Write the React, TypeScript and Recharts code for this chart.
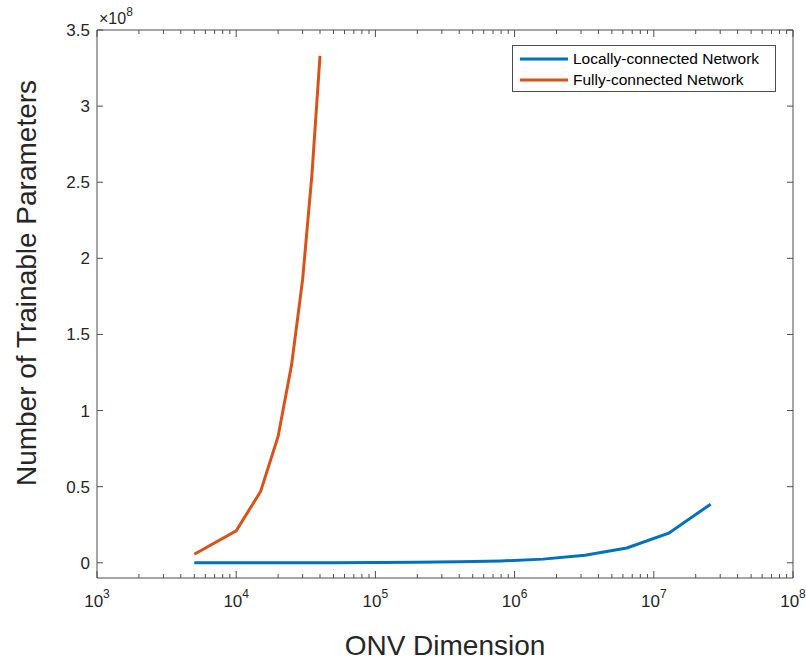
import { Legend, Line, LineChart, ReferenceLine, XAxis, YAxis } from "recharts";

// ONV dimension vs. number of trainable parameters
const localDims = [5000, 12500, 25000, 50000, 100000, 200000, 400000, 800000, 1600000, 3200000, 6400000, 12800000, 25600000];
const localParams = [8e3, 2e4, 4e4, 8e4, 1.5e5, 3e5, 6e5, 1.2e6, 2.4e6, 4.9e6, 9.7e6, 1.94e7, 3.85e7];

const fullDims = [5000, 10000, 15000, 20000, 25000, 30000, 35000, 40000];
const fullParams = [5.6e6, 2.1e7, 4.7e7, 8.3e7, 1.3e8, 1.86e8, 2.55e8, 3.33e8];

const seriesNames = ["Locally-connected Network", "Fully-connected Network"];

const xMajorTicks = [1e3, 1e4, 1e5, 1e6, 1e7, 1e8];
const yTicks = [0, 0.5e8, 1e8, 1.5e8, 2e8, 2.5e8, 3e8, 3.5e8];

const xAllTicks: number[] = [...xMajorTicks];
for (let d = 1e3; d < 1e8; d *= 10) {
  for (let m = 2; m <= 9; m++) xAllTicks.push(d * m);
}
xAllTicks.sort((a, b) => a - b);

const localData = localDims.map((x, i) => ({ x, y: localParams[i] }));
const fullData = fullDims.map((x, i) => ({ x, y: fullParams[i] }));

const W = 806;
const H = 663;
const PLOT = { left: 97, right: 793, top: 30, bottom: 578 };
const FONT = '"Liberation Sans", Arial, Helvetica, sans-serif';
const AXIS = "#4d4d4d";
const TEXT = "#262626";
const BLUE = "#0072BD";
const ORANGE = "#D95319";
const COLORS = [BLUE, ORANGE];

const isMajor = (v: number) => Math.abs(Math.log10(v) - Math.round(Math.log10(v))) < 1e-9;

const BottomTick = (props: any) => {
  const { x, payload } = props;
  if (!isMajor(payload.value)) {
    return <line x1={x} x2={x} y1={PLOT.bottom} y2={PLOT.bottom - 4} stroke={AXIS} />;
  }
  const exp = Math.round(Math.log10(payload.value));
  return (
    <g>
      <line x1={x} x2={x} y1={PLOT.bottom} y2={PLOT.bottom - 7} stroke={AXIS} />
      <text x={x} y={PLOT.bottom + 29} textAnchor="middle" fontSize={17} fill={TEXT} fontFamily={FONT}>
        <tspan>10</tspan>
        <tspan dy={-9} fontSize={12}>
          {exp}
        </tspan>
      </text>
    </g>
  );
};

const TopTick = (props: any) => {
  const len = isMajor(props.payload.value) ? 7 : 4;
  return <line x1={props.x} x2={props.x} y1={PLOT.top} y2={PLOT.top + len} stroke={AXIS} />;
};

const LeftTick = (props: any) => {
  const { y, payload } = props;
  return (
    <g>
      <line x1={PLOT.left} x2={PLOT.left + 6} y1={y} y2={y} stroke={AXIS} />
      <text x={PLOT.left - 7} y={y} dy={6} textAnchor="end" fontSize={17} fill={TEXT} fontFamily={FONT}>
        {String(payload.value / 1e8)}
      </text>
    </g>
  );
};

const RightTick = (props: any) => (
  <line x1={PLOT.right} x2={PLOT.right - 6} y1={props.y} y2={props.y} stroke={AXIS} />
);

const YTitle = () => {
  const cy = (PLOT.top + PLOT.bottom) / 2 - 21;
  return (
    <g fontFamily={FONT} fill={TEXT}>
      <text x={36} y={cy} transform={`rotate(-90, 36, ${cy})`} textAnchor="middle" fontSize={28}>
        Number of Trainable Parameters
      </text>
      <text x={99} y={24} fontSize={16}>
        <tspan>×10</tspan>
        <tspan dy={-8} fontSize={12}>
          8
        </tspan>
      </text>
    </g>
  );
};

const XTitle = () => (
  <text x={(PLOT.left + PLOT.right) / 2} y={655} textAnchor="middle" fontSize={28} fill={TEXT} fontFamily={FONT}>
    ONV Dimension
  </text>
);

const LegendBox = () => (
  <div
    style={{
      width: 262,
      height: 43,
      border: `1px solid ${AXIS}`,
      background: "#fff",
      fontFamily: FONT,
      fontSize: 15.5,
      color: "#000",
      paddingTop: 2,
    }}
  >
    {seriesNames.map((name, i) => (
      <div key={name} style={{ display: "flex", alignItems: "center", height: 21 }}>
        <svg width={60} height={21}>
          <line x1={7} x2={55} y1={11} y2={11} stroke={COLORS[i]} strokeWidth={3} />
        </svg>
        <span>{name}</span>
      </div>
    ))}
  </div>
);

export default function App() {
  return (
    <div style={{ position: "absolute", left: 0, top: 0, width: W, height: H, background: "#fff" }}>
      <LineChart width={W} height={H} margin={{ top: PLOT.top - 1, right: W - PLOT.right - 1, bottom: 0, left: 0 }}>
        <XAxis
          xAxisId="main"
          dataKey="x"
          type="number"
          scale="log"
          domain={[1e3, 1e8]}
          allowDataOverflow
          ticks={xAllTicks}
          interval={0}
          height={H - PLOT.bottom}
          axisLine={{ stroke: AXIS }}
          tickLine={false}
          tick={<BottomTick />}
          label={<XTitle />}
        />
        <XAxis
          xAxisId="top"
          orientation="top"
          dataKey="x"
          type="number"
          scale="log"
          domain={[1e3, 1e8]}
          allowDataOverflow
          ticks={xAllTicks}
          interval={0}
          height={1}
          axisLine={false}
          tickLine={false}
          tick={<TopTick />}
        />
        <YAxis
          yAxisId="main"
          type="number"
          domain={[-1e7, 3.5e8]}
          allowDataOverflow
          ticks={yTicks}
          interval={0}
          width={PLOT.left}
          axisLine={{ stroke: AXIS }}
          tickLine={false}
          tick={<LeftTick />}
          label={<YTitle />}
        />
        <YAxis
          yAxisId="right"
          orientation="right"
          type="number"
          domain={[-1e7, 3.5e8]}
          allowDataOverflow
          ticks={yTicks}
          interval={0}
          width={1}
          axisLine={false}
          tickLine={false}
          tick={<RightTick />}
        />
        <ReferenceLine xAxisId="main" yAxisId="main" x={1e8} stroke={AXIS} />
        <ReferenceLine xAxisId="main" yAxisId="main" y={3.5e8} stroke={AXIS} />
        <Legend
          layout="horizontal"
          verticalAlign="middle"
          align="center"
          content={<LegendBox />}
          wrapperStyle={{ position: "absolute", left: 512, top: 45, width: "auto", height: "auto" }}
        />
        {/* invisible series so the mirrored box axes get drawn */}
        <Line
          xAxisId="top"
          yAxisId="right"
          data={localData}
          dataKey="y"
          stroke="none"
          dot={false}
          legendType="none"
          isAnimationActive={false}
        />
        <Line
          xAxisId="main"
          yAxisId="main"
          data={localData}
          dataKey="y"
          name={seriesNames[0]}
          type="linear"
          stroke={BLUE}
          strokeWidth={3}
          dot={false}
          isAnimationActive={false}
        />
        <Line
          xAxisId="main"
          yAxisId="main"
          data={fullData}
          dataKey="y"
          name={seriesNames[1]}
          type="linear"
          stroke={ORANGE}
          strokeWidth={3}
          dot={false}
          isAnimationActive={false}
        />
      </LineChart>
    </div>
  );
}
